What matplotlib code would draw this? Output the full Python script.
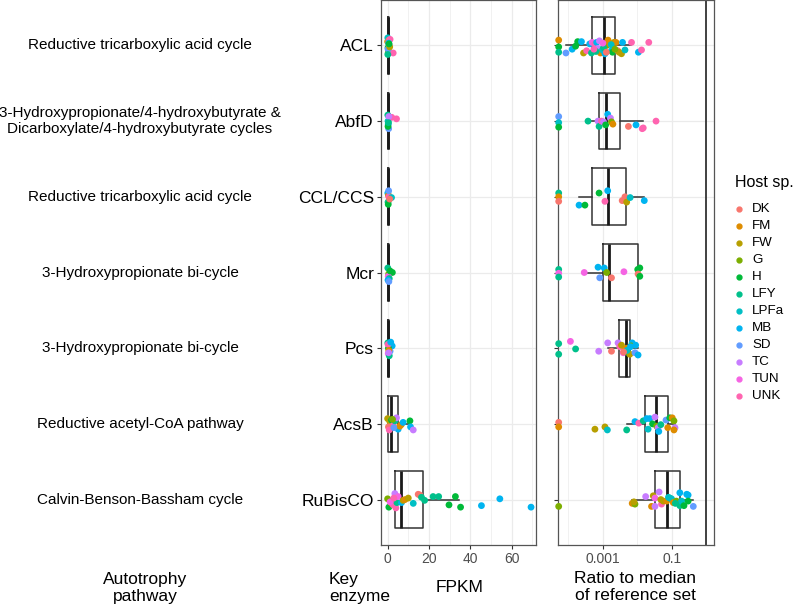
"""
Autotrophy enzymes: FPKM and ratio to reference median, per host species.
"""
import matplotlib
matplotlib.use("Agg")
import matplotlib.pyplot as plt
from matplotlib.lines import Line2D

plt.rcParams['font.family'] = ['Liberation Sans', 'DejaVu Sans']

# categories, top to bottom
enzymes = ['ACL', 'AbfD', 'CCL/CCS', 'Mcr', 'Pcs', 'AcsB', 'RuBisCO']
pathways = ['Reductive tricarboxylic acid cycle',
            '3-Hydroxypropionate/4-hydroxybutyrate &\nDicarboxylate/4-hydroxybutyrate cycles',
            'Reductive tricarboxylic acid cycle',
            '3-Hydroxypropionate bi-cycle',
            '3-Hydroxypropionate bi-cycle',
            'Reductive acetyl-CoA pathway',
            'Calvin-Benson-Bassham cycle']

hosts = ['DK', 'FM', 'FW', 'G', 'H', 'LFY', 'LPFa', 'MB', 'SD', 'TC', 'TUN', 'UNK']
host_colors = ['#F8766D', '#DE8C00', '#B79F00', '#7CAE00', '#00BA38', '#00C08B',
               '#00BFC4', '#00B4F0', '#619CFF', '#C77CFF', '#F564E3', '#FF64B0']

# box statistics (q1, median, q3, whisker low, whisker high)
fpkm_box = [(0.1, 0.3, 0.6, 0.0, 1.2),
            (0.1, 0.3, 0.5, 0.0, 1.0),
            (0.1, 0.3, 0.6, 0.0, 1.2),
            (0.1, 0.3, 0.6, 0.0, 1.2),
            (0.2, 0.4, 0.7, 0.0, 1.4),
            (0.2, 1.6, 5.1, 0.0, 10.8),
            (3.5, 6.6, 16.9, 0.0, 34.7)]
# log10 of ratio
ratio_box = [(-3.31, -2.96, -2.66, -4.07, -2.18),
             (-3.11, -2.92, -2.49, -3.35, -1.85),
             (-3.32, -2.86, -2.34, -3.69, -1.81),
             (-2.99, -2.81, -1.99, -3.52, -1.96),
             (-2.54, -2.34, -2.21, -2.85, -1.99),
             (-1.78, -1.47, -1.11, -2.30, -0.91),
             (-1.48, -1.14, -0.77, -2.15, -0.40)]

# points: (value, host, vertical jitter in category units, + is downward)
acl_fpkm = [(0.0, 'FM', -0.05), (0.2, 'H', 0.03), (0.4, 'LFY', 0.08), (0.1, 'LPFa', -0.10),
            (0.6, 'DK', -0.07), (1.2, 'UNK', -0.08), (0.3, 'G', 0.10), (0.8, 'TC', 0.0),
            (2.7, 'UNK', 0.10), (0.5, 'MB', -0.03), (0.2, 'SD', 0.05), (1.0, 'FW', 0.02),
            (0.1, 'LFY', 0.12), (0.7, 'H', -0.02)]
abfd_fpkm = [(0.1, 'LFY', -0.08), (0.3, 'MB', 0.04), (0.5, 'SD', 0.10), (0.2, 'LPFa', 0.0),
             (2.0, 'UNK', -0.05), (4.3, 'UNK', -0.03), (0.6, 'TC', -0.06), (0.2, 'H', 0.07),
             (0.4, 'LFY', 0.02)]
ccl_fpkm = [(0.1, 'MB', -0.05), (0.4, 'FM', -0.02), (0.6, 'UNK', 0.0), (1.9, 'LPFa', 0.01),
            (0.2, 'LFY', 0.07), (0.3, 'H', 0.10), (1.0, 'DK', 0.03), (0.5, 'SD', -0.08)]
mcr_fpkm = [(0.1, 'LFY', -0.06), (0.5, 'G', 0.02), (2.3, 'H', 0.0), (0.3, 'TUN', 0.05),
            (0.8, 'LFY', 0.08), (0.2, 'MB', 0.10), (1.2, 'H', -0.02), (0.6, 'SD', 0.12)]
pcs_fpkm = [(0.1, 'LFY', -0.07), (2.2, 'MB', -0.03), (1.2, 'SD', 0.04), (0.4, 'H', 0.0),
            (0.3, 'TUN', 0.07), (0.8, 'LFY', 0.10), (0.2, 'UNK', -0.05), (0.6, 'FM', 0.03),
            (1.5, 'MB', -0.08), (0.5, 'TC', 0.06)]
acsb_fpkm = [(0.0, 'FW', -0.07), (1.1, 'FW', -0.03), (1.9, 'H', -0.05), (2.7, 'UNK', 0.02),
             (3.5, 'LFY', -0.04), (4.3, 'TC', -0.08), (5.1, 'MB', 0.07), (5.9, 'FM', 0.03),
             (6.6, 'FM', 0.01), (7.5, 'MB', -0.02), (10.8, 'H', -0.04), (11.1, 'MB', 0.04),
             (12.4, 'TC', 0.08), (0.4, 'DK', 0.04), (0.8, 'UNK', 0.08), (2.4, 'G', -0.06),
             (3.0, 'SD', 0.05)]
rubisco_fpkm = [(0.0, 'G', -0.01), (0.6, 'H', 0.10), (1.9, 'FM', 0.05), (2.7, 'UNK', 0.07),
                (3.5, 'TC', -0.08), (4.0, 'UNK', 0.11), (4.5, 'LFY', 0.04), (5.1, 'TUN', -0.04),
                (6.7, 'MB', 0.04), (7.5, 'FW', 0.01), (8.4, 'FM', 0.0), (10.0, 'FW', -0.02),
                (12.4, 'LPFa', 0.05), (14.8, 'DK', -0.07), (15.6, 'DK', -0.06), (16.4, 'LFY', -0.03),
                (17.9, 'LFY', 0.01), (22.0, 'LFY', -0.04), (24.7, 'LFY', -0.04), (29.7, 'H', 0.07),
                (32.8, 'H', -0.04), (35.3, 'H', 0.10), (45.4, 'MB', 0.08), (54.3, 'MB', -0.01),
                (69.4, 'MB', 0.10), (1.2, 'TUN', 0.03), (3.0, 'UNK', -0.02)]

# log10 ratio; None = zero (drawn at the panel edge)
acl_ratio = [(None, 'FM', -0.07), (None, 'H', 0.02), (None, 'LFY', 0.09),
             (-4.07, 'SD', 0.10), (-3.89, 'MB', 0.05), (-3.79, 'H', 0.01), (-3.73, 'H', -0.05),
             (-3.62, 'MB', -0.05), (-3.56, 'FW', 0.10), (-3.47, 'UNK', 0.07), (-3.38, 'MB', -0.02),
             (-3.33, 'LFY', 0.10), (-3.31, 'TUN', -0.04), (-3.23, 'UNK', -0.02), (-3.18, 'MB', -0.04),
             (-3.14, 'TC', 0.04), (-3.07, 'FM', 0.10), (-3.01, 'LPFa', 0.06), (-2.94, 'MB', 0.11),
             (-2.89, 'G', 0.0), (-2.85, 'FM', -0.07), (-2.80, 'FM', -0.02), (-2.75, 'MB', 0.07),
             (-2.72, 'H', 0.09), (-2.68, 'FW', -0.04), (-2.62, 'FM', -0.04), (-2.57, 'DK', 0.07),
             (-2.53, 'FW', 0.09), (-2.46, 'FW', 0.11), (-2.43, 'MB', -0.04), (-2.36, 'LPFa', 0.06),
             (-2.17, 'UNK', -0.04), (-1.97, 'MB', 0.09), (-1.88, 'UNK', 0.06), (-1.67, 'UNK', -0.04),
             (-3.20, 'LFY', 0.08), (-3.10, 'TC', -0.06), (-2.98, 'LFY', 0.03), (-2.90, 'DK', 0.09),
             (-2.76, 'LPFa', -0.01), (-3.00, 'TUN', -0.03), (-2.65, 'G', 0.05), (-3.26, 'UNK', 0.05)]
abfd_ratio = [(None, 'SD', -0.06), (None, 'LPFa', 0.02), (None, 'H', 0.08),
              (-3.43, 'LFY', 0.0), (-3.14, 'TC', 0.0), (-3.11, 'LFY', 0.07), (-3.04, 'UNK', 0.0),
              (-2.98, 'TC', 0.01), (-2.92, 'H', 0.05), (-2.86, 'MB', -0.09), (-2.78, 'TC', -0.04),
              (-2.75, 'G', 0.01), (-2.71, 'FM', 0.04), (-2.26, 'DK', 0.07), (-2.04, 'MB', 0.05),
              (-1.86, 'UNK', 0.10), (-1.83, 'UNK', 0.09), (-1.46, 'UNK', 0.0)]
ccl_ratio = [(None, 'LFY', -0.05), (None, 'FM', 0.0), (None, 'DK', 0.06),
             (-3.69, 'MB', 0.11), (-3.52, 'H', 0.11), (-3.11, 'H', -0.05), (-2.94, 'UNK', 0.06),
             (-2.86, 'MB', -0.08), (-2.44, 'DK', 0.05), (-2.36, 'DK', 0.0), (-2.31, 'FW', 0.07),
             (-2.21, 'LPFa', 0.01), (-1.80, 'MB', 0.05)]
mcr_ratio = [(None, 'LFY', -0.04), (None, 'TUN', 0.01), (None, 'LFY', 0.06),
             (-3.54, 'TUN', 0.0), (-3.14, 'MB', -0.07), (-3.09, 'SD', 0.07), (-2.96, 'MB', -0.06),
             (-2.89, 'G', 0.0), (-2.75, 'DK', 0.07), (-2.39, 'TUN', -0.01), (-1.99, 'H', -0.04),
             (-1.93, 'H', -0.06), (-1.98, 'DK', 0.02), (-1.93, 'H', 0.05)]
pcs_ratio = [(None, 'LFY', -0.06), (None, 'LFY', 0.08), (-3.94, 'TUN', -0.09),
             (-3.79, 'LFY', 0.01), (-3.12, 'TC', 0.04), (-2.86, 'TC', -0.07), (-2.75, 'DK', 0.04),
             (-2.56, 'TC', -0.07), (-2.51, 'UNK', -0.02), (-2.46, 'FW', -0.04), (-2.41, 'TUN', 0.06),
             (-2.36, 'FM', 0.02), (-2.31, 'FM', 0.0), (-2.27, 'H', 0.06), (-2.22, 'FW', 0.08),
             (-2.15, 'MB', -0.07), (-2.18, 'G', -0.03), (-2.07, 'SD', 0.06), (-2.05, 'MB', -0.04),
             (-1.98, 'MB', 0.09), (-2.30, 'LPFa', 0.03), (-2.20, 'MB', -0.02), (-2.40, 'DK', 0.05)]
acsb_ratio = [(None, 'DK', -0.02), (None, 'FM', 0.04), (-3.23, 'FW', 0.07),
              (-2.94, 'FW', 0.04), (-2.87, 'LPFa', 0.08), (-2.31, 'LFY', 0.08), (-2.07, 'MB', -0.03),
              (-1.96, 'UNK', -0.01), (-1.83, 'LFY', -0.04), (-1.73, 'MB', -0.07), (-1.69, 'LPFa', 0.07),
              (-1.64, 'MB', -0.07), (-1.56, 'H', 0.0), (-1.49, 'TC', -0.09), (-1.44, 'G', 0.03),
              (-1.40, 'TC', 0.05), (-1.38, 'MB', 0.10), (-1.32, 'LFY', 0.01), (-1.17, 'SD', -0.05),
              (-1.12, 'FM', 0.05), (-1.06, 'H', -0.08), (-0.99, 'FM', -0.08), (-0.94, 'G', -0.04),
              (-0.91, 'TC', 0.05), (-0.94, 'FM', 0.08)]
rubisco_ratio = [(None, 'G', 0.09), (-2.15, 'FM', 0.05), (-2.07, 'G', 0.06), (-2.10, 'FW', 0.03),
                 (-1.76, 'TC', -0.04), (-1.59, 'FM', 0.09), (-1.54, 'FW', -0.05), (-1.49, 'TUN', -0.02),
                 (-1.49, 'TC', 0.09), (-1.37, 'TC', -0.10), (-1.30, 'UNK', 0.06), (-1.32, 'FW', 0.0),
                 (-1.25, 'FW', 0.02), (-1.15, 'FM', 0.02), (-1.06, 'LFY', -0.02), (-1.01, 'LPFa', -0.01),
                 (-0.96, 'FM', 0.04), (-0.87, 'G', 0.02), (-0.77, 'MB', -0.09), (-0.77, 'LFY', 0.08),
                 (-0.72, 'LPFa', 0.02), (-0.65, 'H', 0.08), (-0.57, 'MB', -0.07), (-0.53, 'MB', -0.06),
                 (-0.53, 'H', 0.02), (-0.38, 'SD', 0.09), (-0.90, 'LFY', 0.05), (-1.10, 'LPFa', -0.03)]

fpkm_points = [acl_fpkm, abfd_fpkm, ccl_fpkm, mcr_fpkm, pcs_fpkm, acsb_fpkm, rubisco_fpkm]
ratio_points = [acl_ratio, abfd_ratio, ccl_ratio, mcr_ratio, pcs_ratio, acsb_ratio, rubisco_ratio]

color_of = dict(zip(hosts, host_colors))
W, H = 800, 608
fig = plt.figure(figsize=(W / 100, H / 100), dpi=100)

def fig_box(x0, x1, y0, y1):
    return [x0 / W, 1 - y1 / H, (x1 - x0) / W, (y1 - y0) / H]

ax1 = fig.add_axes(fig_box(381, 536, 0, 545))
ax2 = fig.add_axes(fig_box(558, 714, 0, 545))

RATIO_LIM = (-4.30, 0.22)

def style_panel(ax):
    ax.set_ylim(len(enzymes) - 0.4, -0.6)
    ax.set_yticks(range(len(enzymes)))
    ax.grid(True, which='major', color='#EBEBEB', lw=0.9)
    ax.grid(True, which='minor', axis='x', color='#EBEBEB', lw=0.5)
    ax.set_axisbelow(True)
    for s in ax.spines.values():
        s.set_color('#555555')
        s.set_linewidth(0.9)
    ax.tick_params(axis='both', which='major', length=3, color='#333333',
                   labelsize=10, labelcolor='#4D4D4D', pad=2)
    ax.tick_params(axis='both', which='minor', length=0)

def draw_boxes(ax, stats):
    bx = [dict(q1=s[0], med=s[1], q3=s[2], whislo=s[3], whishi=s[4], fliers=[]) for s in stats]
    ax.bxp(bx, positions=range(len(stats)), widths=0.75, vert=False, showfliers=False,
           showcaps=False, manage_ticks=False,
           boxprops=dict(color='#333333', lw=1.1),
           whiskerprops=dict(color='#333333', lw=1.1),
           medianprops=dict(color='#1a1a1a', lw=2.0))

def draw_points(ax, rows, zero_x=None):
    for i, row in enumerate(rows):
        xs = [zero_x if v is None else v for v, h, j in row]
        ys = [i + j for v, h, j in row]
        cs = [color_of[h] for v, h, j in row]
        ax.scatter(xs, ys, s=24, c=cs, linewidths=0, zorder=3, clip_on=False)

# left panel: FPKM
style_panel(ax1)
draw_boxes(ax1, fpkm_box)
draw_points(ax1, fpkm_points)
ax1.set_xlim(-3.2, 71.8)
ax1.set_xticks([0, 20, 40, 60])
ax1.set_xticks([10, 30, 50, 70], minor=True)
ax1.set_yticklabels(enzymes, fontsize=12.5, color='black')

# right panel: ratio (log10 scale)
style_panel(ax2)
draw_boxes(ax2, ratio_box)
draw_points(ax2, ratio_points, zero_x=RATIO_LIM[0] + 0.02)
ax2.axvline(0, color='#333333', lw=1.3, zorder=2)
ax2.set_xlim(*RATIO_LIM)
ax2.set_xticks([-3, -1])
ax2.set_xticklabels(['0.001', '0.1'])
ax2.set_xticks([-4, -2, 0], minor=True)
ax2.set_yticklabels([])

# pathway labels
for i, p in enumerate(pathways):
    y = ax1.transData.transform((0, i))[1]
    fig.text(140 / W, y / H, p, ha='center', va='center', fontsize=11,
             linespacing=1.25)

# bottom labels
fig.text(145 / W, 1 - 588 / H, 'Autotrophy\npathway', ha='center', va='center', fontsize=12.5,
         linespacing=1.1)
fig.text(329 / W, 1 - 588 / H, 'Key\nenzyme', ha='left', va='center', fontsize=12.5,
         linespacing=1.1)
fig.text(460 / W, 1 - 588 / H, 'FPKM', ha='center', va='center', fontsize=12.5)
fig.text(635 / W, 1 - 587 / H, 'Ratio to median\nof reference set', ha='center', va='center',
         fontsize=12.5, linespacing=1.1)

# legend
fig.text(735 / W, 1 - 183 / H, 'Host sp.', ha='left', va='center', fontsize=11.5)
for k, (h, c) in enumerate(zip(hosts, host_colors)):
    y = 1 - (209 + 17.0 * k) / H
    fig.add_artist(Line2D([739 / W], [y], marker='o', ms=3.5, color=c, lw=0,
                          transform=fig.transFigure))
    fig.text(752 / W, y, h, ha='left', va='center', fontsize=9.6)

fig.savefig('out.png', dpi=100)
